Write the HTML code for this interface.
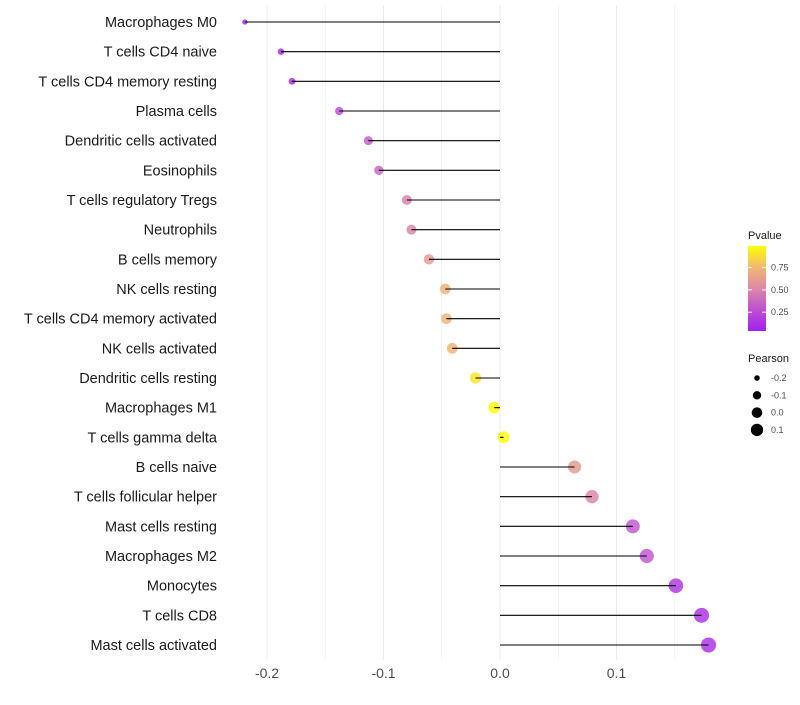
<!DOCTYPE html>
<html><head><meta charset="utf-8"><style>
body{margin:0;background:#fff;font-family:"Liberation Sans",sans-serif;}
</style></head><body>
<svg id="chart" width="800" height="700" xmlns="http://www.w3.org/2000/svg"></svg>
<script>
const categories=["Macrophages M0","T cells CD4 naive","T cells CD4 memory resting","Plasma cells","Dendritic cells activated","Eosinophils","T cells regulatory  Tregs ","Neutrophils","B cells memory","NK cells resting","T cells CD4 memory activated","NK cells activated","Dendritic cells resting","Macrophages M1","T cells gamma delta","B cells naive","T cells follicular helper","Mast cells resting","Macrophages M2","Monocytes","T cells CD8","Mast cells activated"];
const pearson=[-0.219,-0.188,-0.1785,-0.138,-0.113,-0.104,-0.080,-0.076,-0.061,-0.047,-0.046,-0.041,-0.021,-0.005,0.003,0.064,0.079,0.114,0.126,0.151,0.173,0.179];
const pvalue=[0.06,0.1,0.1,0.25,0.33,0.35,0.48,0.5,0.6,0.72,0.72,0.74,0.9,0.98,0.98,0.6,0.5,0.3,0.3,0.15,0.12,0.12];
const xTicks=[-0.2,-0.1,0.0,0.1];
const xTickLabels=["-0.2","-0.1","0.0","0.1"];
const pTicks=[0.25,0.5,0.75];
const sizeLegend=[-0.2,-0.1,0.0,0.1];

const svg=document.getElementById('chart');
const NS="http://www.w3.org/2000/svg";
function mk(t,a,p){const e=document.createElementNS(NS,t);for(const k in a)e.setAttribute(k,a[k]);(p||svg).appendChild(e);return e;}
const x=v=>500+v*1165;
const y=i=>22+i*(623/21);
const r=v=>Math.sqrt(Math.max(4,7+125*(v+0.22)));
const stops=[[0,[160,32,240]],[0.25,[190,80,210]],[0.5,[222,136,166]],[0.75,[240,184,112]],[1,[255,255,0]]];
function col(p){p=Math.max(0,Math.min(1,(p-0.04)/0.95));let k=0;while(k<stops.length-2&&p>stops[k+1][0])k++;const a=stops[k],b=stops[k+1];const t=(p-a[0])/(b[0]-a[0]);const c=a[1].map((v,i)=>Math.round(v+(b[1][i]-v)*t));return `rgb(${c})`;}

const grid=mk('g',{});


for(let v=-0.2;v<=0.151;v+=0.05){mk('line',{x1:x(v),x2:x(v),y1:5,y2:660,stroke:'#ebebeb','stroke-width':Math.abs(Math.round(v*20))%2===0?1:0.6},grid);}
xTicks.forEach((v,i)=>{const t=mk('text',{x:x(v),y:678,'text-anchor':'middle','font-size':14,fill:'#4d4d4d'});t.textContent=xTickLabels[i];

});
categories.forEach((c,i)=>{
 const t=mk('text',{x:217,y:y(i)+5,'text-anchor':'end','font-size':14.5,fill:'#1a1a1a'});t.textContent=c;
 
 
 const d=mk('circle',{cx:x(pearson[i]),cy:y(i),r:r(pearson[i]),fill:col(pvalue[i]),'fill-opacity':0.82});
 
 
 const l=mk('line',{x1:x(0),x2:x(pearson[i]),y1:y(i),y2:y(i),stroke:'#000','stroke-width':1.1});
 
 
});
const lt=mk('text',{x:748,y:239,'font-size':11,fill:'#1a1a1a'});lt.textContent="Pvalue";


const defs=mk('defs',{});const g=mk('linearGradient',{id:'pg',x1:0,y1:1,x2:0,y2:0},defs);
[0,0.125,0.25,0.375,0.5,0.625,0.75,0.875,1].forEach(o=>mk('stop',{offset:o,'stop-color':col(0.04+o*0.95)},g));
const bar=mk('rect',{x:748,y:246,width:18,height:85,fill:'url(#pg)'});


const py=p=>331-(p-0.04)/0.95*85;
pTicks.forEach(p=>{mk('line',{x1:748,x2:752,y1:py(p),y2:py(p),stroke:'#fff'});mk('line',{x1:762,x2:766,y1:py(p),y2:py(p),stroke:'#fff'});
const t=mk('text',{x:771,y:py(p)+3,'font-size':9,fill:'#4d4d4d'});t.textContent=p.toFixed(2);

});
const st=mk('text',{x:748,y:362,'font-size':11,fill:'#1a1a1a'});st.textContent="Pearson";


sizeLegend.forEach((v,i)=>{const cy=378+i*17.3;mk('circle',{cx:757,cy:cy,r:r(v)*0.9,fill:'#000'});
const t=mk('text',{x:771,y:cy+3,'font-size':9,fill:'#4d4d4d'});t.textContent=v.toFixed(1);

});
</script>
</body></html>
